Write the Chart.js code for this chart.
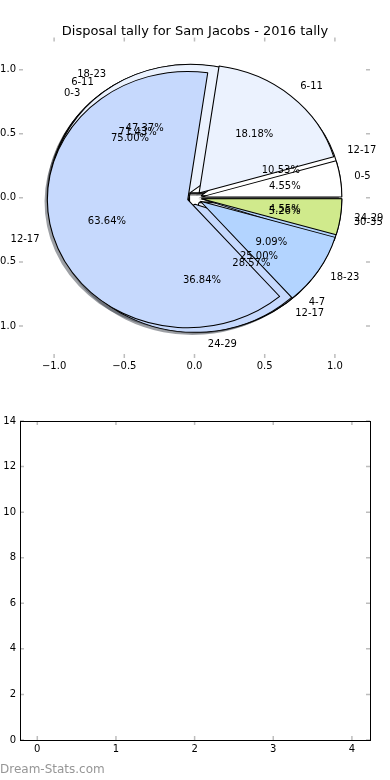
<!DOCTYPE html>
<html>
<head>
<meta charset="utf-8">
<script src="https://cdn.jsdelivr.net/npm/chart.js@4.4.1/dist/chart.umd.min.js"></script>
<style>
  html, body { margin: 0; padding: 0; background: #fff; }
  canvas { display: block; }
</style>
</head>
<body>
<canvas id="pieChart" width="390" height="390"></canvas>
<canvas id="emptyChart" width="390" height="390"></canvas>
<script>
// disposal bins and counts, one pair per pie (anticlockwise from 3 o'clock, like matplotlib)
const binsA = ['0-5', '6-11', '12-17', '18-23', '24-29'];
const countsA = [1, 4, 14, 2, 1];
const binsB = ['12-17', '18-23', '24-29', '30-35'];
const countsB = [2, 9, 7, 1];
const binsC = ['6-11', '12-17'];
const countsC = [5, 2];
const binsD = ['0-3', '4-7'];
const countsD = [3, 1];

const sliceColours = ['#ffffff', '#ebf2fe', '#c6d9fd', '#b3d4ff', '#d0ea8c'];

const pieTicks = [-1, -0.5, 0, 0.5, 1];
const lowerXTicks = [0, 1, 2, 3, 4];
const titleText = 'Disposal tally for Sam Jacobs - 2016 tally';

const EXPLODE = 0.05;

Chart.defaults.font.family = '"DejaVu Sans", sans-serif';
Chart.defaults.font.size = 10;
Chart.defaults.color = '#000';

function shade(hex) {
  const n = parseInt(hex.slice(1), 16);
  const r = Math.round(((n >> 16) & 255) * 0.3);
  const g = Math.round(((n >> 8) & 255) * 0.3);
  const b = Math.round((n & 255) * 0.3);
  return `rgba(${r},${g},${b},0.5)`;
}

function minus(v, digits) {
  return v.toFixed(digits).replace('-', '\u2212');
}

// chart.js goes clockwise, so feed the slices reversed and start at 3 o'clock
function pieDataset(bins, counts, isShadow) {
  const cols = counts.map((c, i) => isShadow ? shade(sliceColours[i]) : sliceColours[i]).reverse();
  return {
    type: 'pie',
    data: counts.slice().reverse(),
    sliceLabels: bins.slice().reverse(),
    backgroundColor: cols,
    borderColor: isShadow ? cols : '#000',
    borderWidth: isShadow ? 0 : 1,
    rotation: 90,
    clip: false,
    isShadow: isShadow
  };
}

function isPie(chart, i) {
  return chart.data.datasets[i].type === 'pie';
}

const pieLayout = {
  id: 'pieLayout',
  afterDatasetsUpdate(chart) {
    const xs = chart.scales.x, ys = chart.scales.y;
    const cx = xs.getPixelForValue(0), cy = ys.getPixelForValue(0);
    const R = cy - ys.getPixelForValue(1);
    chart.data.datasets.forEach((ds, i) => {
      if (ds.type !== 'pie') return;
      chart.getDatasetMeta(i).data.forEach(arc => {
        const mid = (arc.startAngle + arc.endAngle) / 2;
        let x = cx + EXPLODE * R * Math.cos(mid);
        let y = cy + EXPLODE * R * Math.sin(mid);
        if (ds.isShadow) { x -= 0.02 * R; y += 0.02 * R; }
        arc.x = x;
        arc.y = y;
        arc.innerRadius = 0;
        arc.outerRadius = R;
      });
    });
  },
  beforeDatasetDraw(chart, args) {
    if (!isPie(chart, args.index)) return;
    const xs = chart.scales.x, ys = chart.scales.y;
    const cx = xs.getPixelForValue(0), cy = ys.getPixelForValue(0);
    const sx = (xs.getPixelForValue(1) - cx) / (cy - ys.getPixelForValue(1));
    const ctx = chart.ctx;
    ctx.save();
    ctx.translate(cx, cy);
    ctx.scale(sx, 1);
    ctx.translate(-cx, -cy);
  },
  afterDatasetDraw(chart, args) {
    if (!isPie(chart, args.index)) return;
    chart.ctx.restore();
  },
  afterDatasetsDraw(chart) {
    const ctx = chart.ctx, xs = chart.scales.x, ys = chart.scales.y;
    ctx.save();
    ctx.font = '10px "DejaVu Sans"';
    ctx.fillStyle = '#000';
    ctx.textBaseline = 'middle';
    for (let i = chart.data.datasets.length - 1; i >= 0; i--) {
      const ds = chart.data.datasets[i];
      if (ds.type !== 'pie' || ds.isShadow) continue;
      const total = ds.data.reduce((a, b) => a + b, 0);
      chart.getDatasetMeta(i).data.forEach((arc, j) => {
        const mid = (arc.startAngle + arc.endAngle) / 2;
        const c = Math.cos(mid), s = -Math.sin(mid);
        const rp = EXPLODE + 0.6, rl = EXPLODE + 1.1;
        ctx.textAlign = 'center';
        ctx.fillText((ds.data[j] / total * 100).toFixed(2) + '%',
          xs.getPixelForValue(rp * c), ys.getPixelForValue(rp * s));
        ctx.textAlign = c > 0 ? 'left' : 'right';
        ctx.fillText(ds.sliceLabels[j],
          xs.getPixelForValue(rl * c), ys.getPixelForValue(rl * s));
      });
    }
    ctx.restore();
  }
};

// matplotlib style: ticks pointing inward on all four sides, optional frame
const axisFrame = {
  id: 'axisFrame',
  afterDraw(chart, args, opts) {
    const ctx = chart.ctx, a = chart.chartArea;
    const xs = chart.scales.x, ys = chart.scales.y;
    ctx.save();
    ctx.strokeStyle = '#bdbdbd';
    ctx.lineWidth = 1.5;
    ctx.beginPath();
    xs.ticks.forEach(t => {
      const px = xs.getPixelForValue(t.value);
      ctx.moveTo(px, a.top); ctx.lineTo(px, a.top + 4);
      ctx.moveTo(px, a.bottom); ctx.lineTo(px, a.bottom - 4);
    });
    ys.ticks.forEach(t => {
      const py = ys.getPixelForValue(t.value);
      ctx.moveTo(a.left, py); ctx.lineTo(a.left + 4, py);
      ctx.moveTo(a.right, py); ctx.lineTo(a.right - 4, py);
    });
    ctx.stroke();
    if (opts.frame) {
      ctx.strokeStyle = '#000';
      ctx.lineWidth = 1;
      ctx.strokeRect(Math.round(a.left) + 0.5, Math.round(a.top) + 0.5,
        Math.round(a.right - a.left), Math.round(a.bottom - a.top));
    }
    if (opts.watermark) {
      ctx.font = '12px "DejaVu Sans"';
      ctx.fillStyle = '#969696';
      ctx.textAlign = 'left';
      ctx.textBaseline = 'middle';
      ctx.fillText(opts.watermark, 0, chart.height - 10);
    }
    ctx.restore();
  }
};

// empty right-hand axis that only reserves the 20px margin, so the title stays centred
const spacerAxis = {
  type: 'linear',
  position: 'right',
  grid: { display: false, drawTicks: false },
  border: { display: false },
  ticks: { display: false },
  afterFit: s => { s.width = 20; }
};

const pieChart = new Chart(document.getElementById('pieChart'), {
  type: 'scatter',
  data: {
    datasets: [
      pieDataset(binsA, countsA, false),
      pieDataset(binsB, countsB, false),
      pieDataset(binsC, countsC, false),
      pieDataset(binsD, countsD, false),
      pieDataset(binsA, countsA, true),
      pieDataset(binsB, countsB, true),
      pieDataset(binsC, countsC, true),
      pieDataset(binsD, countsD, true)
    ]
  },
  options: {
    responsive: false,
    animation: false,
    events: [],
    layout: { padding: { top: 0, left: 0, right: 0, bottom: 10 } },
    plugins: {
      legend: { display: false },
      tooltip: { enabled: false },
      title: {
        display: true,
        text: titleText,
        font: { size: 13, weight: 'normal' },
        color: '#000',
        padding: { top: 24, bottom: -2 }
      },
      axisFrame: { frame: false }
    },
    scales: {
      x: {
        type: 'linear',
        min: -1.25,
        max: 1.25,
        grid: { display: false, drawTicks: false },
        border: { display: false },
        afterBuildTicks: s => { s.ticks = pieTicks.map(v => ({ value: v })); },
        afterFit: s => { s.height = 22; },
        ticks: { maxRotation: 0, autoSkip: false, padding: 2, callback: v => minus(v, 1) }
      },
      y: {
        type: 'linear',
        min: -1.25,
        max: 1.25,
        grid: { display: false, drawTicks: false },
        border: { display: false },
        afterBuildTicks: s => { s.ticks = pieTicks.map(v => ({ value: v })); },
        afterFit: s => { s.width = 19; },
        ticks: { padding: 3, callback: v => minus(v, 1) }
      },
      yRight: spacerAxis
    }
  },
  plugins: [pieLayout, axisFrame]
});

const emptyChart = new Chart(document.getElementById('emptyChart'), {
  type: 'scatter',
  data: { datasets: [] },
  options: {
    responsive: false,
    animation: false,
    events: [],
    layout: { padding: { top: 31, left: 0, right: 20, bottom: 20 } },
    plugins: {
      legend: { display: false },
      tooltip: { enabled: false },
      axisFrame: { frame: true, watermark: 'Dream-Stats.com' }
    },
    scales: {
      x: {
        type: 'linear',
        min: -0.22,
        max: 4.23,
        grid: { display: false, drawTicks: false },
        border: { display: false },
        afterBuildTicks: s => { s.ticks = lowerXTicks.map(v => ({ value: v })); },
        afterFit: s => { s.height = 20; },
        ticks: { maxRotation: 0, autoSkip: false, padding: 3 }
      },
      y: {
        type: 'linear',
        min: 0,
        max: 14,
        grid: { display: false, drawTicks: false },
        border: { display: false },
        afterFit: s => { s.width = 20; },
        ticks: { stepSize: 2, padding: 4 }
      }
    }
  },
  plugins: [axisFrame]
});
</script>
</body>
</html>
